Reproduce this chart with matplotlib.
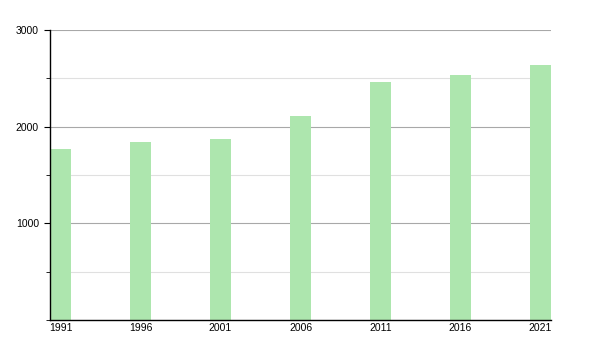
import matplotlib
matplotlib.use("Agg")
import matplotlib.pyplot as plt
from matplotlib.ticker import MultipleLocator

years = ["1991", "1996", "2001", "2006", "2011", "2016", "2021"]
population = [1767, 1843, 1874, 2112, 2464, 2536, 2640]

plt.rcParams['font.family'] = ['Liberation Sans', 'DejaVu Sans']

fig = plt.figure(figsize=(6, 3.5), dpi=100)
ax = fig.add_axes([50/600, 30/350, 501/600, 290/350])

w = 21/80
x = list(range(len(years)))
ax.bar(x, population, width=w, color='#ade6ae', edgecolor='none', zorder=2)

ax.set_xlim(-w/2, len(years) - 1 + w/2)
ax.set_ylim(0, 3000)
ax.set_xticks(x)
ax.set_xticklabels(years, fontsize=7.5)
ax.set_yticks([1000, 2000, 3000])
ax.set_yticklabels(["1000", "2000", "3000"], fontsize=7.5)
ax.yaxis.set_minor_locator(MultipleLocator(500))

ax.grid(axis='y', which='major', color='#a8a8a8', linewidth=0.8, zorder=1)
ax.grid(axis='y', which='minor', color='#e0e0e0', linewidth=0.8, zorder=1)

ax.tick_params(axis='x', length=0, pad=2)
ax.tick_params(axis='y', which='major', length=4, width=0.8, pad=4)
ax.tick_params(axis='y', which='minor', length=3, width=0.6)

for s in ['top', 'right']:
    ax.spines[s].set_visible(False)
ax.spines['left'].set_linewidth(1)
ax.spines['bottom'].set_linewidth(1)
ax.spines['left'].set_zorder(3)
ax.spines['bottom'].set_zorder(3)

fig.savefig("out.png", dpi=100)
